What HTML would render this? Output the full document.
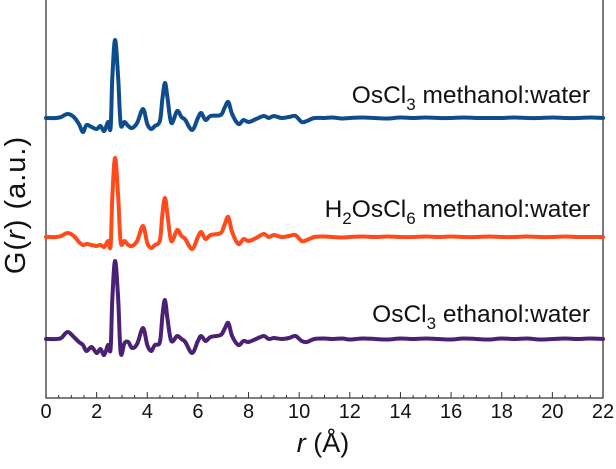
<!DOCTYPE html>
<html><head><meta charset="utf-8"><style>
html,body{margin:0;padding:0;background:#fff;}
svg{display:block;font-family:"Liberation Sans",Arial,sans-serif;}
</style></head><body>
<svg id="chart" width="616" height="469" viewBox="0 0 616 469">
<g id="axes"></g>
<g id="series"></g>
<text x="590" y="103" text-anchor="end" font-size="24.5" fill="#111">OsCl<tspan font-size="17" dy="7">3</tspan><tspan dy="-7"> methanol:water</tspan></text>
<text x="590" y="217" text-anchor="end" font-size="24.5" fill="#111">H<tspan font-size="17" dy="7">2</tspan><tspan dy="-7">OsCl</tspan><tspan font-size="17" dy="7">6</tspan><tspan dy="-7"> methanol:water</tspan></text>
<text x="590" y="322" text-anchor="end" font-size="24.5" fill="#111">OsCl<tspan font-size="17" dy="7">3</tspan><tspan dy="-7"> ethanol:water</tspan></text>
<text transform="translate(25,205) rotate(-90)" text-anchor="middle" font-size="29" letter-spacing="1" fill="#111">G(<tspan font-style="italic">r</tspan>) (a.u.)</text>
<text x="323" y="452" text-anchor="middle" font-size="27" fill="#111"><tspan font-style="italic">r</tspan> (Å)</text>
</svg>
<script>
const xTicks=[0,2,4,6,8,10,12,14,16,18,20,22];
const tailR=[10.6,11,11.3,11.7,12,12.5,13,13.5,14,14.5,15,15.5,16,16.5,17,17.5,18,18.5,19,19.5,20,20.5,21,21.5,22];
const blueR=[0,0.4,0.6,0.85,1.1,1.3,1.46,1.6,1.8,2.0,2.15,2.3,2.45,2.55,2.62,2.73,2.85,2.95,3.1,3.25,3.4,3.6,3.83,4.0,4.15,4.3,4.5,4.6,4.7,4.8,4.95,5.18,5.35,5.5,5.77,6.0,6.13,6.3,6.5,6.9,7.05,7.2,7.35,7.6,7.8,8.0,8.3,8.6,8.8,9.0,9.3,9.6,9.85,10.1,10.3];
const blueG=[0,0,1,4,1,-6,-14,-7,-9,-11,-8,-13,-4,-10,40,78,40,-6,-4,-8,-10,-5,9,-6,-11,-8,-3,20,35,20,-5,7,1,-2,-12,0,5,-2,2,3,10,16,4,-6,-2,-4,-1,2,0,2,0,1,2,-4,-3];
const blueTail=[0,0,0.5,-0.5,0,0.5,0,-0.5,0.5,0,0.5,0,0,0.5,0,0,0,0.5,0,0,0.5,0,0,0.5,0];
const orangeG=[0,0,1,4,1,-5,-8,-7,-8,-9,-8,-10,-4,-9,40,79,40,-5,-4,-8,-9,-4,11,-6,-11,-8,-3,24,39,22,-4,7,1,-2,-12,0,5,-2,2,4,12,20,5,-7,-2,-4,-1,3,0,2,0,1,2,-4,-3];
const orangeTail=[0,0.5,0,-0.5,0,0.5,0,0.5,0,0,0.5,0,0.5,0,0,0.5,0,0,0.5,0,0,0.5,0,0,0];
const purpleG=[0,0,1,7,2,-3,-6,-12,-8,-14,-10,-16,-6,-10,40,78,40,-14,-4,-3,-9,-5,11,-6,-12,-6,-3,24,39,20,-2,3,0,-3,-14,-2,3,-2,2,4,10,16,3,-6,-2,-3,0,3,0,1,0,1,3,-2,-3];
const purpleTail=[0,0.5,0,0.5,-0.5,0.5,0,-0.5,0.5,0,0.5,0,-0.5,0.5,0,-0.5,0.5,0,0.5,-0.5,0,0.5,0,0.5,0];
const X=r=>46+r*(557/22);
const NS="http://www.w3.org/2000/svg";
const axes=document.getElementById('axes');
function mk(tag,attrs,parent){const e=document.createElementNS(NS,tag);for(const k in attrs)e.setAttribute(k,attrs[k]);parent.appendChild(e);return e;}
let fr=mk('path',{d:'M46,0 V398 H603 V0',fill:'none',stroke:'#333','stroke-width':1.3},axes);


for(let t=0;t<=44;t++){const r=t/2;const major=t%4===0;
 let tk=mk('line',{x1:X(r),x2:X(r),y1:398,y2:major?392:395,stroke:'#333','stroke-width':1},axes);
 
 }
xTicks.forEach(v=>{let t=mk('text',{x:X(v),y:418,'text-anchor':'middle','font-size':20,fill:'#111'},axes);t.textContent=v;
 
 });
function curve(pts){let d=`M${pts[0][0]},${pts[0][1]}`;
 for(let i=0;i<pts.length-1;i++){const p0=pts[Math.max(0,i-1)],p1=pts[i],p2=pts[i+1],p3=pts[Math.min(pts.length-1,i+2)];
  const c1=[p1[0]+(p2[0]-p0[0])/6,p1[1]+(p2[1]-p0[1])/6],c2=[p2[0]-(p3[0]-p1[0])/6,p2[1]-(p3[1]-p1[1])/6];
  d+=` C${c1[0].toFixed(1)},${c1[1].toFixed(1)} ${c2[0].toFixed(1)},${c2[1].toFixed(1)} ${p2[0].toFixed(1)},${p2[1].toFixed(1)}`;}
 return d;}
const ser=document.getElementById('series');
[[blueG,blueTail,118,'#0f4c8e','series-oscl3-methanol'],[orangeG,orangeTail,237,'#ff4b1c','series-h2oscl6-methanol'],[purpleG,purpleTail,339,'#4a2174','series-oscl3-ethanol']].forEach(([g,tail,base,col,name])=>{
 const pts=blueR.map((r,i)=>[X(r),base-g[i]]).concat(tailR.map((r,i)=>[X(r),base-tail[i]]));
 let p=mk('path',{d:curve(pts),fill:'none',stroke:col,'stroke-width':4,'stroke-linejoin':'round','stroke-linecap':'round'},ser);
 
 
});
</script>
</body></html>
